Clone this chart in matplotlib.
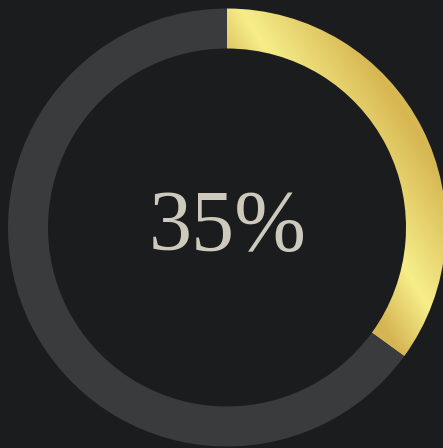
import numpy as np
import matplotlib
matplotlib.use("Agg")
import matplotlib.pyplot as plt
from matplotlib.patches import Wedge
from matplotlib.colors import LinearSegmentedColormap

# ---- data ----
value = 35          # percent
label = "35%"
total = 100

# ---- style ----
BG = "#1b1c1e"
TRACK = "#3a3b3d"
TEXT = "#cdc9bd"
gold_stops = [(0.0, "#d2ad4c"), (0.40, "#d6b654"), (0.53, "#f6ee8a"),
              (0.75, "#d7b752"), (1.0, "#e4cb68")]

W, H = 443, 448
fig = plt.figure(figsize=(W / 100, H / 100), dpi=100, facecolor=BG)
ax = fig.add_axes([0, 0, 1, 1])
ax.set_xlim(0, W)
ax.set_ylim(0, H)
ax.set_facecolor(BG)
ax.axis("off")

cx, cy = 227.0, H - 227.5
r_out, width = 219.0, 40.0
sweep = 360.0 * value / total
start = 90.0 - sweep

# track
ax.add_patch(Wedge((cx, cy), r_out, 90.0, start + 360.0, width=width,
                   facecolor=TRACK, edgecolor="none"))

# gold arc with gradient
arc = Wedge((cx, cy), r_out, start, 90.0, width=width,
            facecolor="none", edgecolor="none")
ax.add_patch(arc)

# bounding box of arc
ang = np.radians(np.linspace(start, 90.0, 400))
xs = np.concatenate([cx + r_out * np.cos(ang), cx + (r_out - width) * np.cos(ang)])
ys = np.concatenate([cy + r_out * np.sin(ang), cy + (r_out - width) * np.sin(ang)])
x0, x1, y0, y1 = xs.min(), xs.max(), ys.min(), ys.max()

gx = np.linspace(x0, x1, 300)
gy = np.linspace(y1, y0, 400)
GX, GY = np.meshgrid(gx, gy)
u = (GX - x0) / (x1 - x0)
v = (y1 - GY) / (y1 - y0)
t = (u + 1 - v) / 2.0
cmap = LinearSegmentedColormap.from_list("gold", gold_stops)
im = ax.imshow(t, cmap=cmap, vmin=0, vmax=1, extent=[x0, x1, y0, y1],
               origin="upper", interpolation="bilinear", aspect="auto")
im.set_clip_path(arc)

ax.text(cx + 1, H - 250, label, ha="center", va="baseline", color=TEXT,
        fontsize=62, family=["Liberation Serif", "DejaVu Serif"])

fig.savefig("out.png", dpi=100, facecolor=BG)
